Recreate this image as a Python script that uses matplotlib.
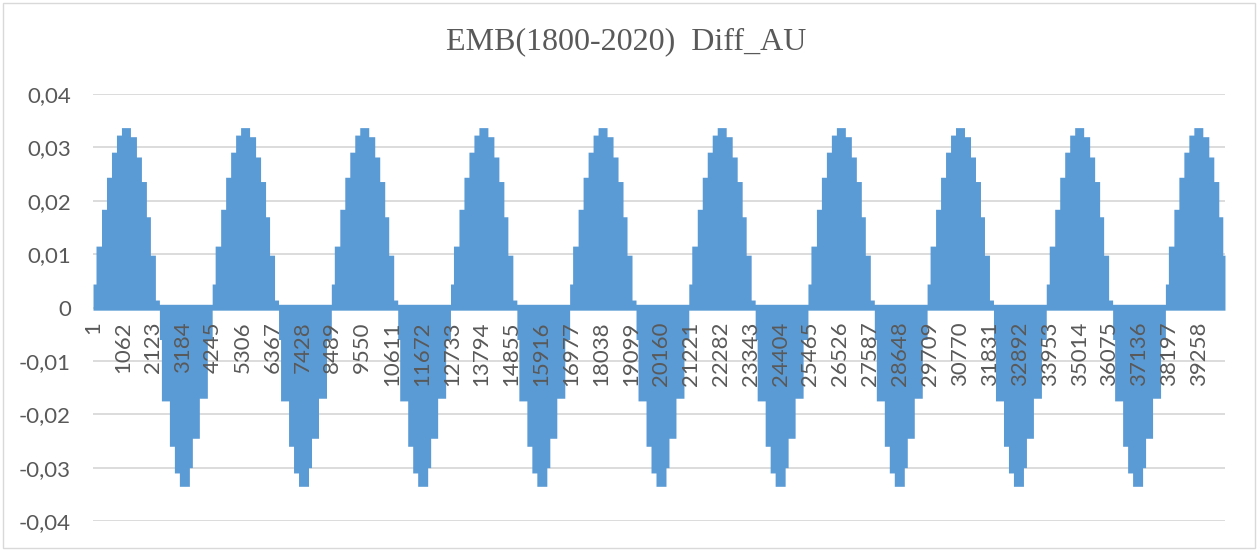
import numpy as np
import matplotlib
matplotlib.use("Agg")
import matplotlib.pyplot as plt
from matplotlib.patches import Rectangle

# ---- data ----
n_points = 40177
title = "EMB(1800-2020)  Diff_AU"
# start index of every annual-like cycle (positive lobe then negative lobe)
cycle_starts = [1, 4230, 8459, 12688, 16917, 21146, 25375, 29604, 33833, 38062]
# envelope steps of the positive lobe (value, number of points)
pos_step_values = [0.0044, 0.0115, 0.0184, 0.0244, 0.0291, 0.0323, 0.0337,
                   0.0320, 0.0282, 0.0236, 0.0170, 0.0098, 0.0014]
pos_step_lengths = [106, 195, 177, 177, 177, 177, 319, 213, 177, 177, 142, 177, 142]
# envelope steps of the negative lobe
neg_step_values = [-0.0060, -0.0175, -0.0260, -0.0310, -0.0335, -0.0300,
                   -0.0245, -0.0170, -0.0060]
neg_step_lengths = [71, 284, 177, 177, 355, 106, 248, 284, 171]
# small opposite-sign swing of the oscillation
pos_lobe_floor = -0.0005
neg_lobe_ceiling = 0.0006

x_tick_labels = [str(v) for v in range(1, n_points, 1061)]
y_ticks = [-0.04, -0.03, -0.02, -0.01, 0.0, 0.01, 0.02, 0.03, 0.04]
y_tick_labels = ["-0,04", "-0,03", "-0,02", "-0,01", "0", "0,01", "0,02", "0,03", "0,04"]

# ---- build series ----
idx = np.arange(1, n_points + 1)
upper = np.zeros(n_points)
lower = np.zeros(n_points)
for s in cycle_starts:
    p = s - 1
    for v, L in zip(pos_step_values, pos_step_lengths):
        upper[p:p + L] = v
        lower[p:p + L] = pos_lobe_floor
        p += L
    for v, L in zip(neg_step_values, neg_step_lengths):
        lower[p:p + L] = v
        upper[p:p + L] = neg_lobe_ceiling
        p += L

# ---- figure ----
W, H = 1259, 550
fig = plt.figure(figsize=(W / 100, H / 100), dpi=100)
fig.patch.set_facecolor("white")
fig.patches.append(Rectangle((3 / W, 2 / H), 1252 / W, 545 / H, transform=fig.transFigure,
                             fill=False, edgecolor="#D9D9D9", lw=1.0))

ax = fig.add_axes([93 / W, 1 - 521 / H, (1225 - 93) / W, (521 - 94) / H])
ax.set_facecolor("none")
for yv in y_ticks:
    ax.axhline(yv, color="#D9D9D9", lw=1.3, zorder=0.5)
ax.fill_between(idx, lower, upper, step="post", color="#5B9BD5", lw=0, zorder=1)

ax.set_xlim(0.5, n_points + 0.5)
ax.set_ylim(-0.04, 0.04)
ax.set_yticks(y_ticks)
ax.set_yticklabels(y_tick_labels)
ax.set_axisbelow(False)
for sp in ax.spines.values():
    sp.set_visible(False)
ax.spines["bottom"].set_position(("data", 0))

ax.set_xticks(list(range(1, n_points, 1061)))
ax.set_xticklabels(x_tick_labels, rotation=90)
ax.tick_params(axis="x", length=0, pad=10, labelsize=16, labelcolor="#595959")
ax.tick_params(axis="y", length=0, pad=16, labelsize=16, labelcolor="#595959")
for lab in ax.get_xticklabels() + ax.get_yticklabels():
    lab.set_fontfamily(["Lato", "DejaVu Sans"])
    lab.set_zorder(5)

fig.text(626 / W, 1 - 42 / H, title, ha="center", va="center", fontsize=23,
         family=["Liberation Serif", "DejaVu Serif"], color="#595959")

fig.savefig("out.png", dpi=100)
